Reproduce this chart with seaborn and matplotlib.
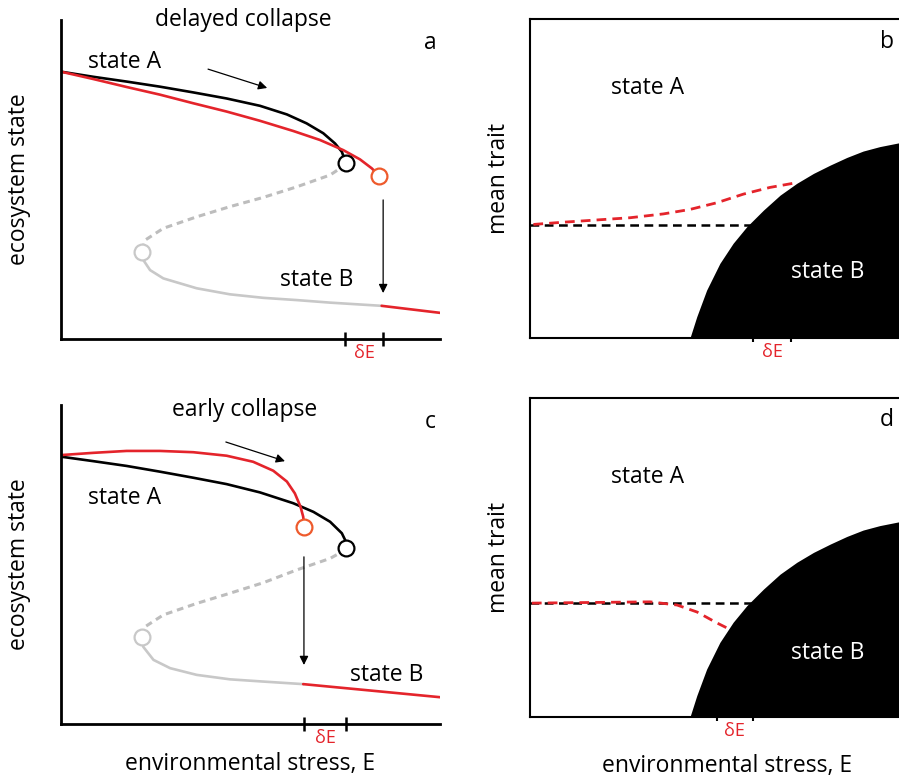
import numpy as np
import pandas as pd
import seaborn as sns
import matplotlib.pyplot as plt

sns.set_style('white')
plt.rcParams['font.family'] = ['Open Sans', 'DejaVu Sans']
plt.rcParams['text.color'] = 'black'
plt.rcParams['axes.labelcolor'] = 'black'

RED = '#e4242b'
ORANGE = '#ee5a2c'
GREY = '#c8c8c8'
GREY_DASH = '#bdbdbd'

'''Data read off the picture (stress E on 0-10, state on 0-10)'''
# panel a: delayed collapse
a_upper_x = [0, 0.85, 1.73, 2.61, 3.49, 4.37, 5.25, 5.96, 6.48, 6.92, 7.23, 7.41, 7.52]
a_upper_y = [8.38, 8.22, 8.07, 7.91, 7.73, 7.54, 7.31, 7.04, 6.76, 6.45, 6.13, 5.87, 5.51]
a_red_x = [0, 0.85, 1.73, 2.61, 3.49, 4.37, 5.25, 6.13, 6.83, 7.45, 7.89, 8.20, 8.40]
a_red_y = [8.38, 8.15, 7.90, 7.66, 7.39, 7.13, 6.84, 6.52, 6.24, 5.92, 5.63, 5.35, 5.11]
a_unstable_x = [7.52, 7.49, 7.10, 6.22, 5.34, 4.46, 3.58, 2.70, 2.22, 2.13]
a_unstable_y = [5.51, 5.45, 5.14, 4.77, 4.44, 4.15, 3.83, 3.47, 3.10, 2.74]
a_lower_x = [2.13, 2.17, 2.35, 2.70, 3.58, 4.46, 5.34, 6.22, 7.10, 8.46]
a_lower_y = [2.74, 2.48, 2.16, 1.90, 1.59, 1.40, 1.29, 1.22, 1.14, 1.04]
a_lower_red_x = [8.46, 10.0]
a_lower_red_y = [1.04, 0.82]
a_ticks = [7.49, 8.50]

# panel c: early collapse
c_upper_x = [0, 0.85, 1.73, 2.61, 3.49, 4.37, 5.25, 6.13, 6.66, 7.10, 7.41, 7.52, 7.52]
c_upper_y = [8.38, 8.24, 8.09, 7.91, 7.72, 7.52, 7.26, 6.92, 6.65, 6.34, 5.98, 5.71, 5.51]
c_red_x = [0, 0.85, 1.73, 2.61, 3.49, 4.37, 5.07, 5.60, 5.96, 6.17, 6.32, 6.39, 6.42]
c_red_y = [8.43, 8.50, 8.56, 8.56, 8.52, 8.41, 8.22, 7.94, 7.60, 7.23, 6.81, 6.50, 6.17]
c_unstable_x = [7.52, 7.49, 7.10, 6.22, 5.34, 4.46, 3.58, 2.70, 2.22, 2.13]
c_unstable_y = [5.51, 5.45, 5.19, 4.83, 4.43, 4.10, 3.78, 3.42, 3.05, 2.72]
c_lower_x = [2.13, 2.17, 2.44, 2.88, 3.58, 4.46, 5.34, 6.39]
c_lower_y = [2.72, 2.42, 2.01, 1.75, 1.54, 1.40, 1.33, 1.25]
c_lower_red_x = [6.39, 7.98, 10.0]
c_lower_red_y = [1.25, 1.07, 0.84]
c_ticks = [6.41, 7.52]

# panels b and d: trait space, boundary of state B region
region_x = [4.22, 4.40, 4.66, 5.01, 5.36, 5.72, 6.16, 6.60, 7.04, 7.48, 7.92,
            8.36, 8.79, 9.23, 9.74, 10.0]
region_y = [0, 0.67, 1.50, 2.34, 2.97, 3.49, 4.01, 4.48, 4.85, 5.16, 5.42,
            5.66, 5.86, 6.00, 6.12, 6.16]
b_trait_level = 3.55
b_red_x = [0.09, 0.88, 1.76, 2.64, 3.52, 4.22, 4.93, 5.63, 6.33, 7.04]
b_red_y = [3.56, 3.63, 3.70, 3.77, 3.89, 4.03, 4.24, 4.51, 4.72, 4.87]
b_ticks = [5.88, 6.89]
d_trait_level = 3.57
d_red_x = [0.05, 3.17, 3.88, 4.41, 4.93, 5.20]
d_red_y = [3.57, 3.61, 3.51, 3.29, 2.95, 2.79]
d_ticks = [4.93, 5.88]

fig = plt.figure(figsize=(8.99, 7.82), dpi=100)
W, H = 899, 782


def make_axes(left, bottom):
    # place axes using pixel position of the lower-left corner
    return fig.add_axes([left / W, 1 - bottom / H, 379 / W, 319 / H])


ax_a = make_axes(61, 339)
ax_b = make_axes(530, 338)
ax_c = make_axes(61, 724)
ax_d = make_axes(530, 717)

FS = 16.5


def line(ax, x, y, color, **kw):
    df = pd.DataFrame({'x': x, 'y': y})
    sns.lineplot(data=df, x='x', y='y', sort=False, estimator=None, ax=ax,
                 color=color, linewidth=kw.pop('lw', 1.9),
                 solid_joinstyle='round', **kw)


def circle(ax, x, y, color):
    sns.scatterplot(x=[x], y=[y], ax=ax, s=130, facecolor='white',
                    edgecolor=color, linewidth=1.6, zorder=5)


def arrow(ax, start, end):
    ax.annotate('', xy=end, xytext=start,
                arrowprops=dict(arrowstyle='-|>', lw=0.9, color='black',
                                mutation_scale=13, shrinkA=0, shrinkB=0))


def bifurcation_panel(ax, upper, red, unstable, lower, lower_red, ticks):
    line(ax, upper[0], upper[1], 'black')
    line(ax, red[0], red[1], RED)
    line(ax, unstable[0], unstable[1], GREY_DASH, dashes=(2.2, 1.6), lw=2.2)
    line(ax, lower[0], lower[1], GREY)
    line(ax, lower_red[0], lower_red[1], RED)
    circle(ax, upper[0][-1], upper[1][-1], 'black')
    circle(ax, red[0][-1], red[1][-1], ORANGE)
    circle(ax, unstable[0][-1], unstable[1][-1], GREY)
    ax.set_xlim(0, 10)
    ax.set_ylim(0, 10)
    sns.despine(ax=ax)
    for s in ['left', 'bottom']:
        ax.spines[s].set_linewidth(2.0)
        ax.spines[s].set_color('black')
    ax.set_yticks([])
    ax.set_xticks(ticks)
    ax.set_xticklabels([])
    ax.tick_params(axis='x', direction='inout', length=10, width=1.8,
                   color='black', bottom=True)
    ax.text(np.mean(ticks), -0.45, 'δE', color=RED, fontsize=13,
            ha='center', va='center')
    ax.set_ylabel('ecosystem state', fontsize=FS)
    ax.yaxis.set_label_coords(-0.08, 0.5)
    ax.set_xlabel('')


def trait_panel(ax, level, red_x, red_y, ticks):
    ax.fill_between(region_x, 0, region_y, color='black', lw=0, zorder=3)
    ax.axhline(level, color='black', lw=1.8, dashes=(3.5, 2.2), zorder=2)
    line(ax, red_x, red_y, RED, dashes=(3.5, 2.2), lw=2.0, zorder=2)
    ax.set_xlim(0, 10)
    ax.set_ylim(0, 10)
    for s in ax.spines.values():
        s.set_visible(True)
        s.set_linewidth(1.5)
        s.set_color('black')
    ax.set_yticks([])
    ax.set_xticks(ticks)
    ax.set_xticklabels([])
    ax.tick_params(axis='x', direction='out', length=3, width=1.5,
                   color='black', bottom=True)
    ax.text(np.mean(ticks), -0.45, 'δE', color=RED, fontsize=13,
            ha='center', va='center')
    ax.set_ylabel('mean trait', fontsize=FS)
    ax.yaxis.set_label_coords(-0.05, 0.5)
    ax.set_xlabel('')


'''Panel a'''
bifurcation_panel(ax_a, (a_upper_x, a_upper_y), (a_red_x, a_red_y),
                  (a_unstable_x, a_unstable_y), (a_lower_x, a_lower_y),
                  (a_lower_red_x, a_lower_red_y), a_ticks)
arrow(ax_a, (3.88, 8.46), (5.44, 7.87))
arrow(ax_a, (8.50, 4.36), (8.50, 1.44))
ax_a.text(0.48, 1.0, 'delayed collapse', transform=ax_a.transAxes,
          fontsize=FS, ha='center', va='center')
ax_a.text(9.74, 9.28, 'a', fontsize=FS, ha='center', va='center')
ax_a.text(1.69, 8.68, 'state A', fontsize=FS, ha='center', va='center')
ax_a.text(6.75, 1.85, 'state B', fontsize=FS, ha='center', va='center')

'''Panel b'''
trait_panel(ax_b, b_trait_level, b_red_x, b_red_y, b_ticks)
ax_b.text(3.09, 7.84, 'state A', fontsize=FS, ha='center', va='center')
ax_b.text(9.42, 9.28, 'b', fontsize=FS, ha='center', va='center')
ax_b.text(7.86, 2.07, 'state B', fontsize=FS, color='white',
          ha='center', va='center', zorder=4)

'''Panel c'''
bifurcation_panel(ax_c, (c_upper_x, c_upper_y), (c_red_x, c_red_y),
                  (c_unstable_x, c_unstable_y), (c_lower_x, c_lower_y),
                  (c_lower_red_x, c_lower_red_y), c_ticks)
arrow(ax_c, (4.35, 8.84), (5.91, 8.24))
arrow(ax_c, (6.41, 5.24), (6.41, 1.85))
ax_c.text(0.485, 0.984, 'early collapse', transform=ax_c.transAxes,
          fontsize=FS, ha='center', va='center')
ax_c.text(9.74, 9.47, 'c', fontsize=FS, ha='center', va='center')
ax_c.text(1.69, 7.08, 'state A', fontsize=FS, ha='center', va='center')
ax_c.text(8.60, 1.54, 'state B', fontsize=FS, ha='center', va='center')
ax_c.set_xlabel('environmental stress, E', fontsize=FS, labelpad=12)

'''Panel d'''
trait_panel(ax_d, d_trait_level, d_red_x, d_red_y, d_ticks)
ax_d.text(3.09, 7.52, 'state A', fontsize=FS, ha='center', va='center')
ax_d.text(9.42, 9.31, 'd', fontsize=FS, ha='center', va='center')
ax_d.text(7.86, 2.01, 'state B', fontsize=FS, color='white',
          ha='center', va='center', zorder=4)
ax_d.set_xlabel('environmental stress, E', fontsize=FS)
ax_d.xaxis.set_label_coords(197 / 379, -0.115)

plt.savefig('out.png', dpi=100)
